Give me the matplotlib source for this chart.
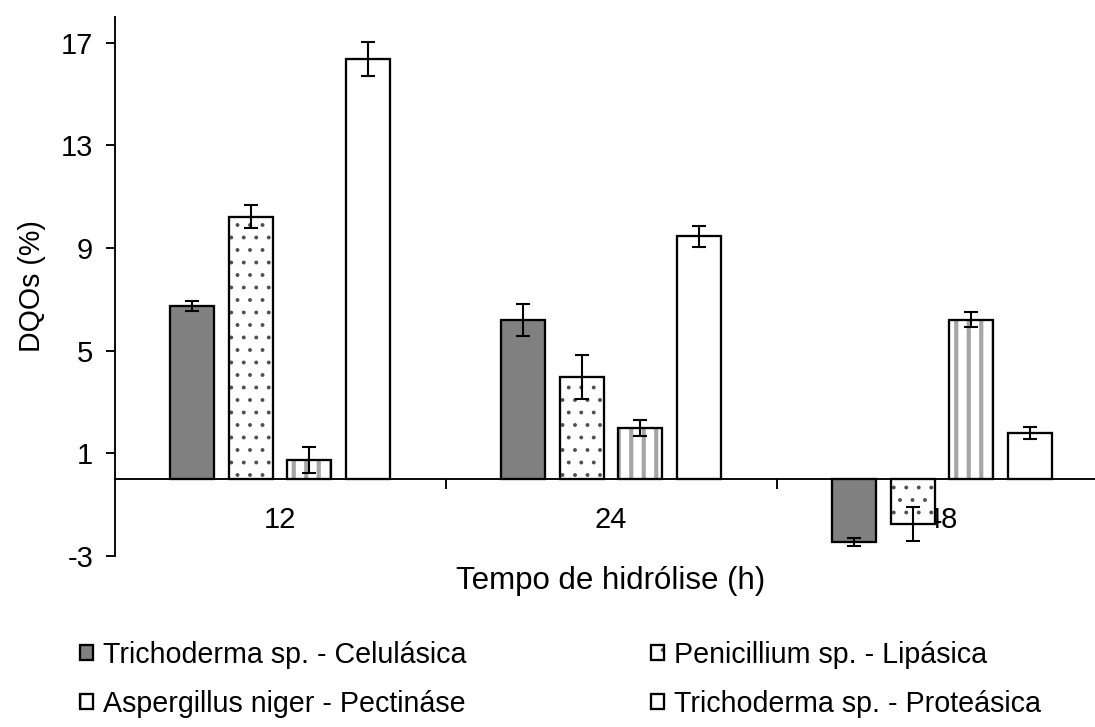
import matplotlib
matplotlib.use('Agg')
import matplotlib.pyplot as plt
from matplotlib.legend_handler import HandlerTuple
import numpy as np

plt.rcParams['font.family'] = ['Liberation Sans', 'DejaVu Sans']
plt.rcParams['axes.unicode_minus'] = False

tempos = ['12', '24', '48']
celulasica = [6.73, 6.19, -2.45]
celulasica_err = [0.20, 0.62, 0.15]
lipasica = [10.22, 3.98, -1.76]
lipasica_err = [0.44, 0.86, 0.65]
pectinase = [0.75, 1.98, 6.21]
pectinase_err = [0.50, 0.32, 0.29]
proteasica = [16.38, 9.46, 1.80]
proteasica_err = [0.66, 0.41, 0.23]
nomes = ['Trichoderma sp. - Celulásica', 'Penicillium sp. - Lipásica',
         'Aspergillus niger - Pectináse', 'Trichoderma sp. - Proteásica']

# face colour, hatch, hatch colour, hatch linewidth
estilos = [('#808080', None, '#808080', 1.0),
           ('white', '.', '#505050', 1.3),
           ('white', '|', '#a6a6a6', 4.0),
           ('white', None, 'white', 1.0)]

valores = [celulasica, lipasica, pectinase, proteasica]
erros = [celulasica_err, lipasica_err, pectinase_err, proteasica_err]

fs = 28
fig = plt.figure(figsize=(1095/75, 727/75), dpi=75)
ax = fig.add_axes([114.5/1095, 171/727, 993/1095, 539/727])

x = np.arange(len(tempos))
w = 0.133
passo = 0.177
handles = []
for i in range(4):
    pos = x + (i - 1.5)*passo
    face, hatch, hc, hlw = estilos[i]
    with plt.rc_context({'hatch.linewidth': hlw}):
        under = ax.bar(pos, valores[i], w, color=face, edgecolor=hc,
                       hatch=hatch, linewidth=0, zorder=2)
    for p in under:
        if hasattr(p, 'set_hatch_linewidth'):
            p.set_hatch_linewidth(hlw)
    over = ax.bar(pos, valores[i], w, color='none', edgecolor='black',
                  linewidth=2.2, zorder=2.1)
    ax.errorbar(pos, valores[i], yerr=erros[i], fmt='none', ecolor='black',
                elinewidth=2.0, capsize=6.5, capthick=2.0, zorder=3)
    handles.append((under, over))

ax.set_xlim(-0.5, 2.5)
ax.set_ylim(-3, 18)
ax.set_yticks([-3, 1, 5, 9, 13, 17])
ax.set_xticks(x)
ax.set_xticklabels(tempos)
ax.set_xticks([0.5, 1.5], minor=True)
ax.tick_params(axis='x', which='major', length=0, pad=26, labelsize=fs)
ax.tick_params(axis='x', which='minor', length=9.6, width=1.8, direction='out')
ax.tick_params(axis='y', length=8.5, width=1.8, pad=12, labelsize=fs)

ax.spines['top'].set_visible(False)
ax.spines['right'].set_visible(False)
ax.spines['bottom'].set_position(('data', 0))
ax.spines['bottom'].set_linewidth(1.8)
ax.spines['left'].set_linewidth(1.8)

ax.set_xlabel('Tempo de hidrólise (h)', fontsize=30)
ax.xaxis.set_label_coords(0.5, -0.019)
ax.set_ylabel('DQOs (%)', fontsize=27.5)
ax.yaxis.set_label_coords(-0.069, 0.5)

ordem = [0, 2, 1, 3]
fig.legend([handles[k] for k in ordem], [nomes[k] for k in ordem],
           handler_map={tuple: HandlerTuple(ndivide=1, pad=0)},
           ncol=2, loc='upper left', bbox_to_anchor=(80/1095, 1 - 641/727),
           frameon=False, fontsize=27.5, handlelength=0.45, handleheight=0.45,
           handletextpad=0.35, columnspacing=6.45, labelspacing=0.72,
           borderpad=0, borderaxespad=0)

fig.savefig('out.png', dpi=75)
